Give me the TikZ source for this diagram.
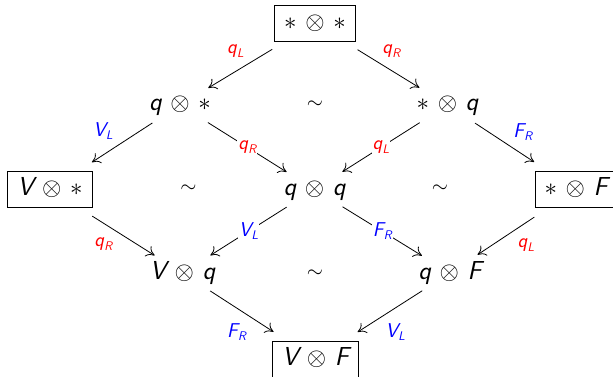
\documentclass[tikz,border=0pt]{standalone}
\usepackage{fontspec}
\usetikzlibrary{arrows.meta}

% sans oblique letters, tensor products and subscripted arrow labels
\newcommand\sfit[1]{{\sffamily\itshape #1}}
\newcommand\ob[1]{{\fontsize{26}{28}\selectfont\sffamily\itshape #1}}
\newcommand\tp[2]{#1\hspace{0.36em}$\otimes$\hspace{0.36em}#2}
\newcommand\lab[2]{\sfit{#1}\kern0.3pt\lower3.5pt\hbox{\fontsize{12.5}{13}\selectfont\sfit{#2}}}
\newcommand\pt{$\ast$}

\definecolor{lred}{RGB}{255,0,0}
\definecolor{lblue}{RGB}{0,0,255}

\begin{document}
\begin{tikzpicture}[x=1pt,y=-1pt,
  obj/.style={font=\fontsize{24}{28}\selectfont, inner sep=0pt, text height=18pt, text depth=6pt},
  boxed/.style={obj, draw, line width=0.8pt, inner xsep=9.5pt, minimum height=36pt},
  mor/.style={line width=0.8pt, -{To[length=8pt,width=12pt]}},
  fromtxt/.style={shorten <=33pt}, frombox/.style={shorten <=50pt},
  totxt/.style={shorten >=33pt}, tobox/.style={shorten >=50pt},
  lbl/.style={font=\fontsize{20}{22}\selectfont, inner sep=1pt, midway},
  red/.style={text=lred}, blue/.style={text=lblue},
  onln/.style={fill=white},
  simsign/.style={font=\fontsize{20}{24}\selectfont, inner sep=0pt}]
\useasboundingbox (0,0) rectangle (613,377);

% objects
\node[boxed] (T) at (315,23.5) {\tp{\pt}{\pt}};
\node[obj]   (A) at (180,105)  {\tp{\ob{q}}{\pt}};
\node[obj]   (B) at (447.5,105) {\tp{\pt}{\ob{q}}};
\node[boxed] (C) at (50,189.5) {\tp{\ob{V}}{\pt}};
\node[obj]   (D) at (314.5,189.5) {\tp{\ob{q}}{\ob{q}}};
\node[boxed] (E) at (576,189.5) {\tp{\pt}{\ob{F}}};
\node[obj]   (G) at (182.5,273) {\tp{\ob{V}}{\ob{q}}};
\node[obj]   (H) at (450,273)  {\tp{\ob{q}}{\ob{F}}};
\node[boxed] (K) at (315.5,359)  {\tp{\ob{V}}{\ob{F}}};

% equivalence signs inside the squares
\node[simsign] (s1) at (315,105)   {$\sim$};
\node[simsign] (s2) at (188.5,189) {$\sim$};
\node[simsign] (s3) at (440,189)   {$\sim$};
\node[simsign] (s4) at (315,274)   {$\sim$};

% morphisms
\draw[mor, frombox, totxt] (T.center) -- node[lbl, red, xshift=-12pt, yshift=13pt] (l1) {\lab{q}{L}} (A.center);
\draw[mor, frombox, totxt] (T.center) -- node[lbl, red, xshift=10pt, yshift=13pt] (l2) {\lab{q}{R}} (B.center);
\draw[mor, fromtxt, tobox] (A.center) -- node[lbl, blue, xshift=-12pt, yshift=16pt] (l3) {\lab{V}{L}} (C.center);
\draw[mor, fromtxt, totxt] (A.center) -- node[lbl, red, onln] (l4) {\lab{q}{R}} (D.center);
\draw[mor, fromtxt, totxt] (B.center) -- node[lbl, red, onln] (l5) {\lab{q}{L}} (D.center);
\draw[mor, fromtxt, tobox] (B.center) -- node[lbl, blue, xshift=11pt, yshift=15pt] (l6) {\lab{F}{R}} (E.center);
\draw[mor, frombox, totxt] (C.center) -- node[lbl, red, xshift=-13pt, yshift=-13pt] (l7) {\lab{q}{R}} (G.center);
\draw[mor, fromtxt, totxt] (D.center) -- node[lbl, blue, onln] (l8) {\lab{V}{L}} (G.center);
\draw[mor, fromtxt, totxt] (D.center) -- node[lbl, blue, onln] (l9) {\lab{F}{R}} (H.center);
\draw[mor, frombox, totxt] (E.center) -- node[lbl, red, xshift=13pt, yshift=-14pt] (l10) {\lab{q}{L}} (H.center);
\draw[mor, fromtxt, tobox] (G.center) -- node[lbl, blue, xshift=-12.5pt, yshift=-16pt] (l11) {\lab{F}{R}} (K.center);
\draw[mor, fromtxt, tobox] (H.center) -- node[lbl, blue, xshift=12.5pt, yshift=-16pt] (l12) {\lab{V}{L}} (K.center);
\end{tikzpicture}
\end{document}
